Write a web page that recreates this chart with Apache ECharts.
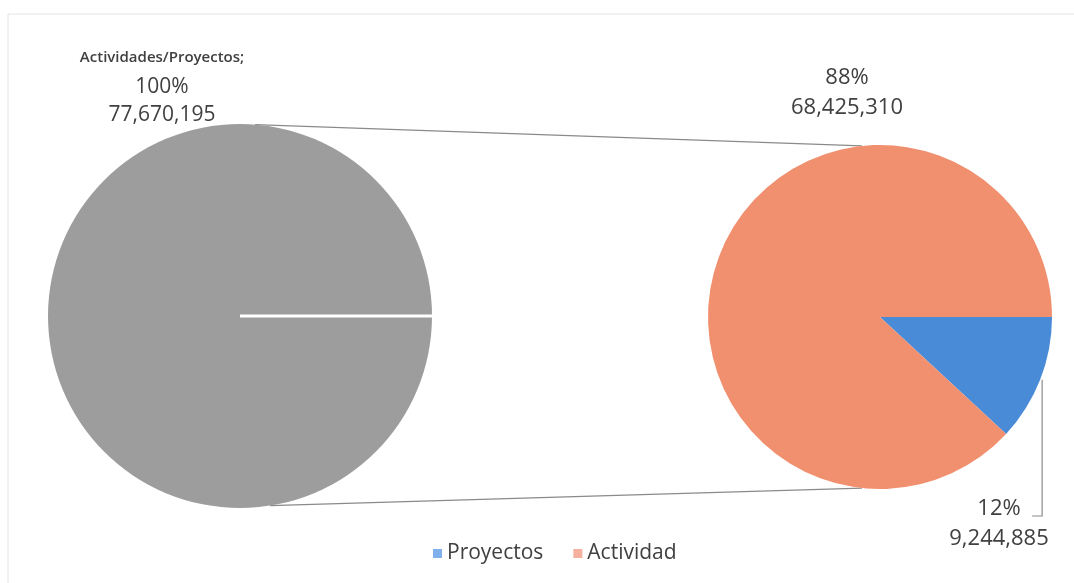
<!DOCTYPE html>
<html>
<head>
<meta charset="utf-8">
<script src="https://cdn.jsdelivr.net/npm/echarts@6/dist/echarts.min.js"></script>
<style>
  html, body { margin: 0; padding: 0; background: #fff; }
  #main { width: 1074px; height: 583px; }
</style>
</head>
<body>
<div id="main"></div>
<script>
// datos
var totalName = 'Actividades/Proyectos'
var totalValue = [77670195]
var categories = ['Proyectos', 'Actividad']
var values = [9244885, 68425310]
var percents = ['12%', '88%']

var colors = ['#4a8bd8', '#f0906f']
var grey = '#9d9d9d'

// geometria de las dos tartas
var leftC = [240, 316], leftR = 192
var rightC = [880, 317], rightR = 172

function fmt(n) {
  return n.toLocaleString('en-US')
}
function onCircle(c, r, deg) {
  var a = deg * Math.PI / 180
  return [c[0] + r * Math.cos(a), c[1] - r * Math.sin(a)]
}

var chartDom = document.getElementById('main')
var myChart = echarts.init(chartDom)

var topL = onCircle(leftC, leftR, 85.5)
var botL = onCircle(leftC, leftR, -81)
var topR = onCircle(rightC, rightR, 96)
var botR = onCircle(rightC, rightR, -96)

var option = {
  textStyle: { fontFamily: 'Open Sans' },
  legend: {
    bottom: 14,
    left: 428,
    itemWidth: 9,
    itemHeight: 9,
    itemGap: 30,
    icon: 'rect',
    textStyle: { fontSize: 21, color: '#404040', fontFamily: 'Open Sans' },
    data: [
      { name: categories[0], itemStyle: { color: '#7fb0ec' } },
      { name: categories[1], itemStyle: { color: '#f5b09e' } }
    ]
  },
  graphic: [
    { type: 'line', shape: { x1: topL[0], y1: topL[1], x2: topR[0], y2: topR[1] }, style: { stroke: '#8a8a8a', lineWidth: 1.2 }, z: 1 },
    { type: 'line', shape: { x1: botL[0], y1: botL[1], x2: botR[0], y2: botR[1] }, style: { stroke: '#8a8a8a', lineWidth: 1.2 }, z: 1 },
    { type: 'line', shape: { x1: leftC[0], y1: leftC[1], x2: leftC[0] + leftR, y2: leftC[1] }, style: { stroke: '#fff', lineWidth: 3 }, z: 10 },
    { type: 'rect', shape: { x: 8, y: 14, width: 1080, height: 600 }, style: { fill: 'none', stroke: '#e4e4e4', lineWidth: 1 }, z: 0 }
  ],
  series: [
    {
      name: totalName,
      type: 'pie',
      center: leftC,
      radius: leftR,
      startAngle: 0,
      silent: true,
      avoidLabelOverlap: false,
      itemStyle: { color: grey },
      label: {
        show: true,
        position: 'inside',
        formatter: function (p) {
          return '{a|' + p.name + ';}\n{b|100%}\n{b|' + fmt(p.value) + '}'
        },
        rich: {
          a: { fontSize: 15, fontWeight: 600, color: '#404040', lineHeight: 30, fontFamily: 'Open Sans' },
          b: { fontSize: 21, color: '#404040', lineHeight: 28, fontFamily: 'Open Sans' }
        }
      },
      labelLine: { show: false },
      labelLayout: function () {
        return { x: 162, y: 86, align: 'center', verticalAlign: 'middle' }
      },
      data: [{ name: totalName, value: totalValue[0] }]
    },
    {
      name: 'detalle',
      type: 'pie',
      center: rightC,
      radius: rightR,
      startAngle: 0,
      clockwise: true,
      silent: true,
      avoidLabelOverlap: false,
      label: {
        show: true,
        position: 'inside',
        color: '#404040',
        fontSize: 22,
        lineHeight: 30,
        fontFamily: 'Open Sans',
        formatter: function (p) {
          return percents[p.dataIndex] + '\n' + fmt(p.value)
        }
      },
      labelLine: { show: false },
      labelLayout: function (params) {
        if (params.dataIndex === 0) {
          return { x: 999, y: 524, align: 'center', verticalAlign: 'middle' }
        }
        return { x: 847, y: 93, align: 'center', verticalAlign: 'middle' }
      },
      data: categories.map(function (c, i) {
        return { name: c, value: values[i], itemStyle: { color: colors[i] } }
      })
    }
  ]
}

// línea guía de Proyectos
var midDeg = -(values[0] / (values[0] + values[1])) * 180
var lp = onCircle(rightC, rightR, midDeg)
option.graphic.push({
  type: 'polyline',
  shape: { points: [[lp[0] + 2, lp[1]], [lp[0] + 2, 516], [lp[0] - 8, 516]] },
  style: { stroke: '#8a8a8a', lineWidth: 1.2, fill: 'none' },
  z: 1
})

myChart.setOption(option)
</script>
</body>
</html>
